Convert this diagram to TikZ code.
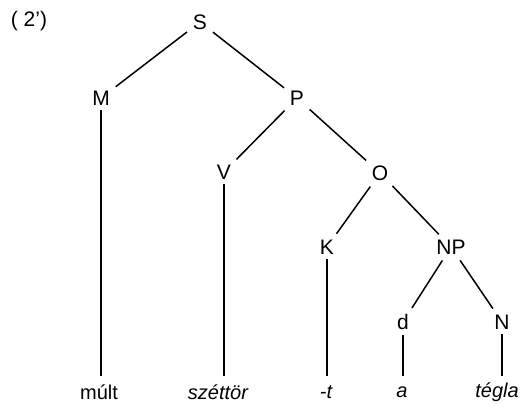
\documentclass[tikz,border=0pt]{standalone}
\usepackage{fontspec}
\setmainfont{Liberation Sans}
\begin{document}
\begin{tikzpicture}[x=1pt,y=-1pt,
  lab/.style={inner sep=1pt,font=\fontsize{21}{24}\selectfont},
  leaf/.style={inner sep=1pt,font=\fontsize{20}{24}\selectfont\itshape},
  edge/.style={line width=1.5pt,shorten >=6pt,shorten <=6pt},
  vline/.style={line width=1.5pt,shorten <=4pt}]
\useasboundingbox (0,0) rectangle (525,414);
\node[lab] (num) at (29,21) {( 2')};
\node[lab] (S) at (200,22) {S};
\node[lab] (M) at (101,98) {M};
\node[lab] (P) at (297,98) {P};
\node[lab] (V) at (224,172) {V};
\node[lab] (O) at (380,173) {O};
\node[lab] (K) at (327,247) {K};
\node[lab] (NP) at (451,247) {NP};
\node[lab] (d) at (403,322) {d};
\node[lab] (N) at (502,322) {N};
\node[leaf,font=\fontsize{20}{24}\selectfont\upshape] (w1) at (99,392) {múlt};
\node[leaf] (w2) at (218,392) {széttör};
\node[leaf] (w3) at (326,392) {-t};
\node[leaf] (w4) at (402,392) {a};
\node[leaf] (w5) at (497,392) {tégla};
\draw[edge] (S) -- (M);
\draw[edge] (S) -- (P);
\draw[edge] (P) -- (V);
\draw[edge] (P) -- (O);
\draw[edge] (O) -- (K);
\draw[edge] (O) -- (NP);
\draw[edge] (NP) -- (d);
\draw[edge] (NP) -- (N);
\coordinate (e1) at (101,376);
\coordinate (e2) at (224,376);
\coordinate (e3) at (327,376);
\coordinate (e4) at (403,376);
\coordinate (e5) at (502,376);
\draw[vline] (M.south) -- (e1);
\draw[vline] (V.south) -- (e2);
\draw[vline] (K.south) -- (e3);
\draw[vline] (d.south) -- (e4);
\draw[vline] (N.south) -- (e5);
\end{tikzpicture}
\end{document}
